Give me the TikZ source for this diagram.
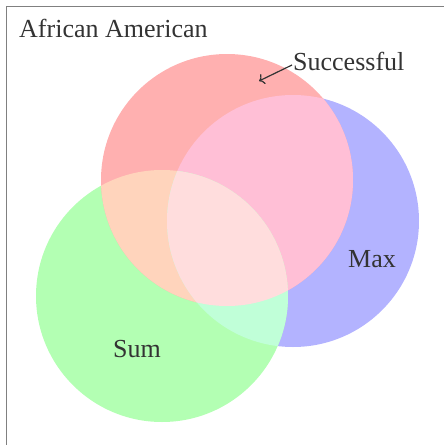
\documentclass[tikz,border=0pt]{standalone}
\usepackage{fontspec}
\setmainfont{Liberation Serif}
\usetikzlibrary{arrows.meta,positioning,calc}
\definecolor{soloexito}{HTML}{FFB0B0}
\definecolor{solomax}{HTML}{B3B3FF}
\definecolor{solosuma}{HTML}{B3FFB3}
\definecolor{exitomax}{HTML}{FFBFD6}
\definecolor{exitosuma}{HTML}{FFD4BC}
\definecolor{sumamax}{HTML}{C0FFD8}
\definecolor{lostres}{HTML}{FFDDDD}
\definecolor{tinta}{HTML}{333333}
\newcommand{\radio}{126}
\tikzset{
    vennset/.style={
        fill=#1,                  % cada conjunto con su color propio
        draw=none                 % sin borde, solo el relleno
    },
    setlabel/.style={
        text=tinta,               % texto gris oscuro
        font=\fontsize{26}{30}\selectfont,
        inner sep=1pt
    },
    pointer/.style={
        -{To[length=5pt,width=11pt]}, % punta abierta, algo grande
        draw=tinta,
        line width=1.2pt
    }
}
\begin{document}
\begin{tikzpicture}[x=1pt,y=-1pt]
    \useasboundingbox (0,0) rectangle (444,445);
    % marco (solo se ven los lados izquierdo y superior)
    \draw[gray, line width=1.2pt] (6.5,445) -- (6.5,6.5) -- (444,6.5);

    \coordinate (exito) at (227,180);
    \coordinate (maximo) at (293,221);
    \coordinate (suma) at (162,296);

    % conjuntos
    \fill[vennset=solomax] (maximo) circle (\radio);
    \fill[vennset=solosuma] (suma) circle (\radio);
    \fill[vennset=soloexito] (exito) circle (\radio);
    % intersecciones de a dos
    \begin{scope}
        \clip (exito) circle (\radio);
        \fill[vennset=exitomax] (maximo) circle (\radio);
        \fill[vennset=exitosuma] (suma) circle (\radio);
    \end{scope}
    \begin{scope}
        \clip (suma) circle (\radio);
        \fill[vennset=sumamax] (maximo) circle (\radio);
    \end{scope}
    % las tres
    \begin{scope}
        \clip (exito) circle (\radio);
        \clip (suma) circle (\radio);
        \fill[vennset=lostres] (maximo) circle (\radio);
    \end{scope}

    \node[setlabel, anchor=west] (grupo) at (18,28) {African American};
    \node[setlabel, anchor=west] (lblexito) at (292,61) {Successful};
    \node[setlabel] (lblmax) at (372,259) {Max};
    \node[setlabel] (lblsuma) at (137,349) {Sum};

    \coordinate (flecha) at (259,81);
    \draw[pointer] ([yshift=-4pt]lblexito.west) -- (flecha);
\end{tikzpicture}
\end{document}
